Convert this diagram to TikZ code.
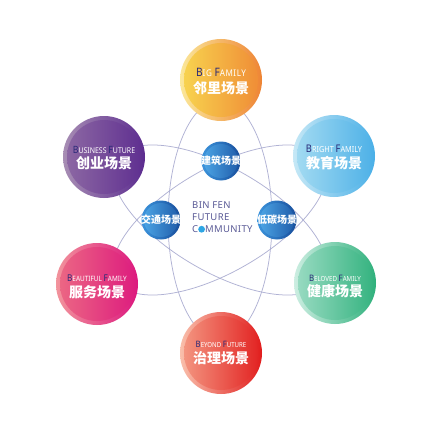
\documentclass[tikz,border=0pt]{standalone}
\usepackage{fontspec}
\setmainfont{Noto Sans}
\newfontfamily\cjk{Noto Sans CJK SC}
\newfontfamily\lat{Noto Sans}
\newfontfamily\ctrf{Noto Sans}[LetterSpace=4]
\definecolor{orbitc}{HTML}{B0B2D4}
\definecolor{ini}{HTML}{2A2A78}
\definecolor{ctrtext}{HTML}{5A5A96}
\definecolor{dotblue}{HTML}{2EA6E4}
% ball colours: outer left/mid/right, inner left/mid/right
\definecolor{yA}{HTML}{FBE89A}\definecolor{yB}{HTML}{F7CB2E}\definecolor{yC}{HTML}{EE8434}
\definecolor{yD}{HTML}{F8D650}\definecolor{yE}{HTML}{F6C62A}\definecolor{yF}{HTML}{EF8A35}
\definecolor{pA}{HTML}{A88EB4}\definecolor{pB}{HTML}{73449C}\definecolor{pC}{HTML}{5B2B8F}
\definecolor{pD}{HTML}{8E6AA4}\definecolor{pE}{HTML}{6C3C98}\definecolor{pF}{HTML}{5E2E90}
\definecolor{lA}{HTML}{C6E8F6}\definecolor{lB}{HTML}{86CDEF}\definecolor{lC}{HTML}{49AFE7}
\definecolor{lD}{HTML}{A6DCF2}\definecolor{lE}{HTML}{80CAEE}\definecolor{lF}{HTML}{4CB0E7}
\definecolor{kA}{HTML}{F2949C}\definecolor{kB}{HTML}{E9487C}\definecolor{kC}{HTML}{DC177E}
\definecolor{kD}{HTML}{EC6A84}\definecolor{kE}{HTML}{E6447E}\definecolor{kF}{HTML}{DD1A7E}
\definecolor{tA}{HTML}{CDEEE2}\definecolor{tB}{HTML}{78CFAE}\definecolor{tC}{HTML}{2EB07B}
\definecolor{tD}{HTML}{9CDCC4}\definecolor{tE}{HTML}{6CC8A6}\definecolor{tF}{HTML}{32B27E}
\definecolor{rA}{HTML}{F9C0AC}\definecolor{rB}{HTML}{EF6C52}\definecolor{rC}{HTML}{E11C1C}
\definecolor{rD}{HTML}{F49A84}\definecolor{rE}{HTML}{EE6A50}\definecolor{rF}{HTML}{E22020}
\definecolor{sA}{HTML}{3C94DC}\definecolor{sB}{HTML}{2A7CC8}\definecolor{sC}{HTML}{184E9C}
\definecolor{sD}{HTML}{4EA8E8}\definecolor{sE}{HTML}{2F82D0}\definecolor{sF}{HTML}{1E5AA8}
\def\capsz{10}
\newcommand\bfw[2]{{\color{ini}\fontsize{\capsz}{\capsz}\selectfont #1}#2}
\newcommand\bluedot{\tikz[baseline=0pt]\fill[dotblue] (3.6pt,3.4pt) circle (3.4pt);}
\tikzset{
  orbit/.style={draw=orbitc, line width=0.75pt},
  ball/.style 2 args={circle, inner sep=0pt, left color=#1A, middle color=#1B, right color=#1C,
    path picture={\shade[left color=#1D, middle color=#1E, right color=#1F]
      (path picture bounding box.center) circle (#2);}},
  bigc/.style={minimum size=82pt},
  smallc/.style={minimum size=39pt},
  en/.style n args={3}{inner sep=0pt, text=white,
    font=\lat\fontsize{#1}{#1}\selectfont\addfontfeature{LetterSpace=#3,FakeStretch=0.88}\def\capsz{#2}},
  zh/.style={inner sep=0pt, text=white, font=\cjk\bfseries\fontsize{14}{16}\selectfont},
  zhs/.style={inner sep=0pt, text=white, font=\cjk\bfseries\fontsize{10}{12}\selectfont},
  ctr/.style={inner sep=0pt, text=ctrtext, align=left, font=\ctrf\fontsize{9.5}{12.3}\selectfont},
}
\begin{document}
\begin{tikzpicture}[x=1pt,y=-1pt]
\useasboundingbox (0,0) rectangle (433,433);
\fill[white] (0,0) rectangle (433,433);
% orbits
\begin{scope}[shift={(220,220)}]
  \draw[orbit] (0,0) ellipse [x radius=52pt, y radius=120pt];
  \draw[orbit, rotate=60] (0,0) ellipse [x radius=52pt, y radius=120pt];
  \draw[orbit, rotate=-60] (0,0) ellipse [x radius=52pt, y radius=120pt];
\end{scope}
% big circles
\node[bigc, ball={y}{37pt}] (big) at (221,80) {};
\node[bigc, ball={p}{37pt}] (bus) at (104,157) {};
\node[bigc, ball={l}{37pt}] (bri) at (334,156) {};
\node[bigc, ball={k}{37pt}] (bea) at (97,284) {};
\node[bigc, ball={t}{37pt}] (bel) at (335,283) {};
\node[bigc, ball={r}{37pt}] (bey) at (221,353) {};
% small circles
\node[smallc, ball={s}{17pt}] (jz) at (221,161) {};
\node[smallc, ball={s}{17pt}] (jt) at (161,220) {};
\node[smallc, ball={s}{17pt}] (dt) at (277,220) {};
% labels
\node[en={9.2}{11.6}{6}] (bigE) at ([yshift=8pt]big.center) {\bfw{B}{IG} \bfw{F}{AMILY}};
\node[zh] (bigZ) at ([yshift=-8pt]big.center) {邻里场景};
\node[en={7.9}{10}{0}] (busE) at ([yshift=7pt]bus.center) {\bfw{B}{USINESS} \bfw{F}{UTURE}};
\node[zh] (busZ) at ([yshift=-6pt]bus.center) {创业场景};
\node[en={8.3}{10.5}{0}] (briE) at ([yshift=7pt]bri.center) {\bfw{B}{RIGHT} \bfw{F}{AMILY}};
\node[zh] (briZ) at ([yshift=-7pt]bri.center) {教育场景};
\node[en={7.3}{9.3}{0}] (beaE) at ([yshift=6pt]bea.center) {\bfw{B}{EAUTIFUL} \bfw{F}{AMILY}};
\node[zh] (beaZ) at ([yshift=-8pt]bea.center) {服务场景};
\node[en={7.0}{8.9}{0}] (belE) at ([yshift=5pt]bel.center) {\bfw{B}{ELOVED} \bfw{F}{AMILY}};
\node[zh] (belZ) at ([yshift=-8pt]bel.center) {健康场景};
\node[en={6.9}{8.8}{0}] (beyE) at ([yshift=9pt]bey.center) {\bfw{B}{EYOND} \bfw{F}{UTURE}};
\node[zh] (beyZ) at ([yshift=-5pt]bey.center) {治理场景};
\node[zhs] (jzT) at (jz.center) {建筑场景};
\node[zhs] (jtT) at (jt.center) {交通场景};
\node[zhs] (dtT) at (dt.center) {低碳场景};
\node[ctr, anchor=west] (ctrT) at (192,217) {BIN FEN\\FUTURE\\C\bluedot MMUNITY};
\end{tikzpicture}
\end{document}
